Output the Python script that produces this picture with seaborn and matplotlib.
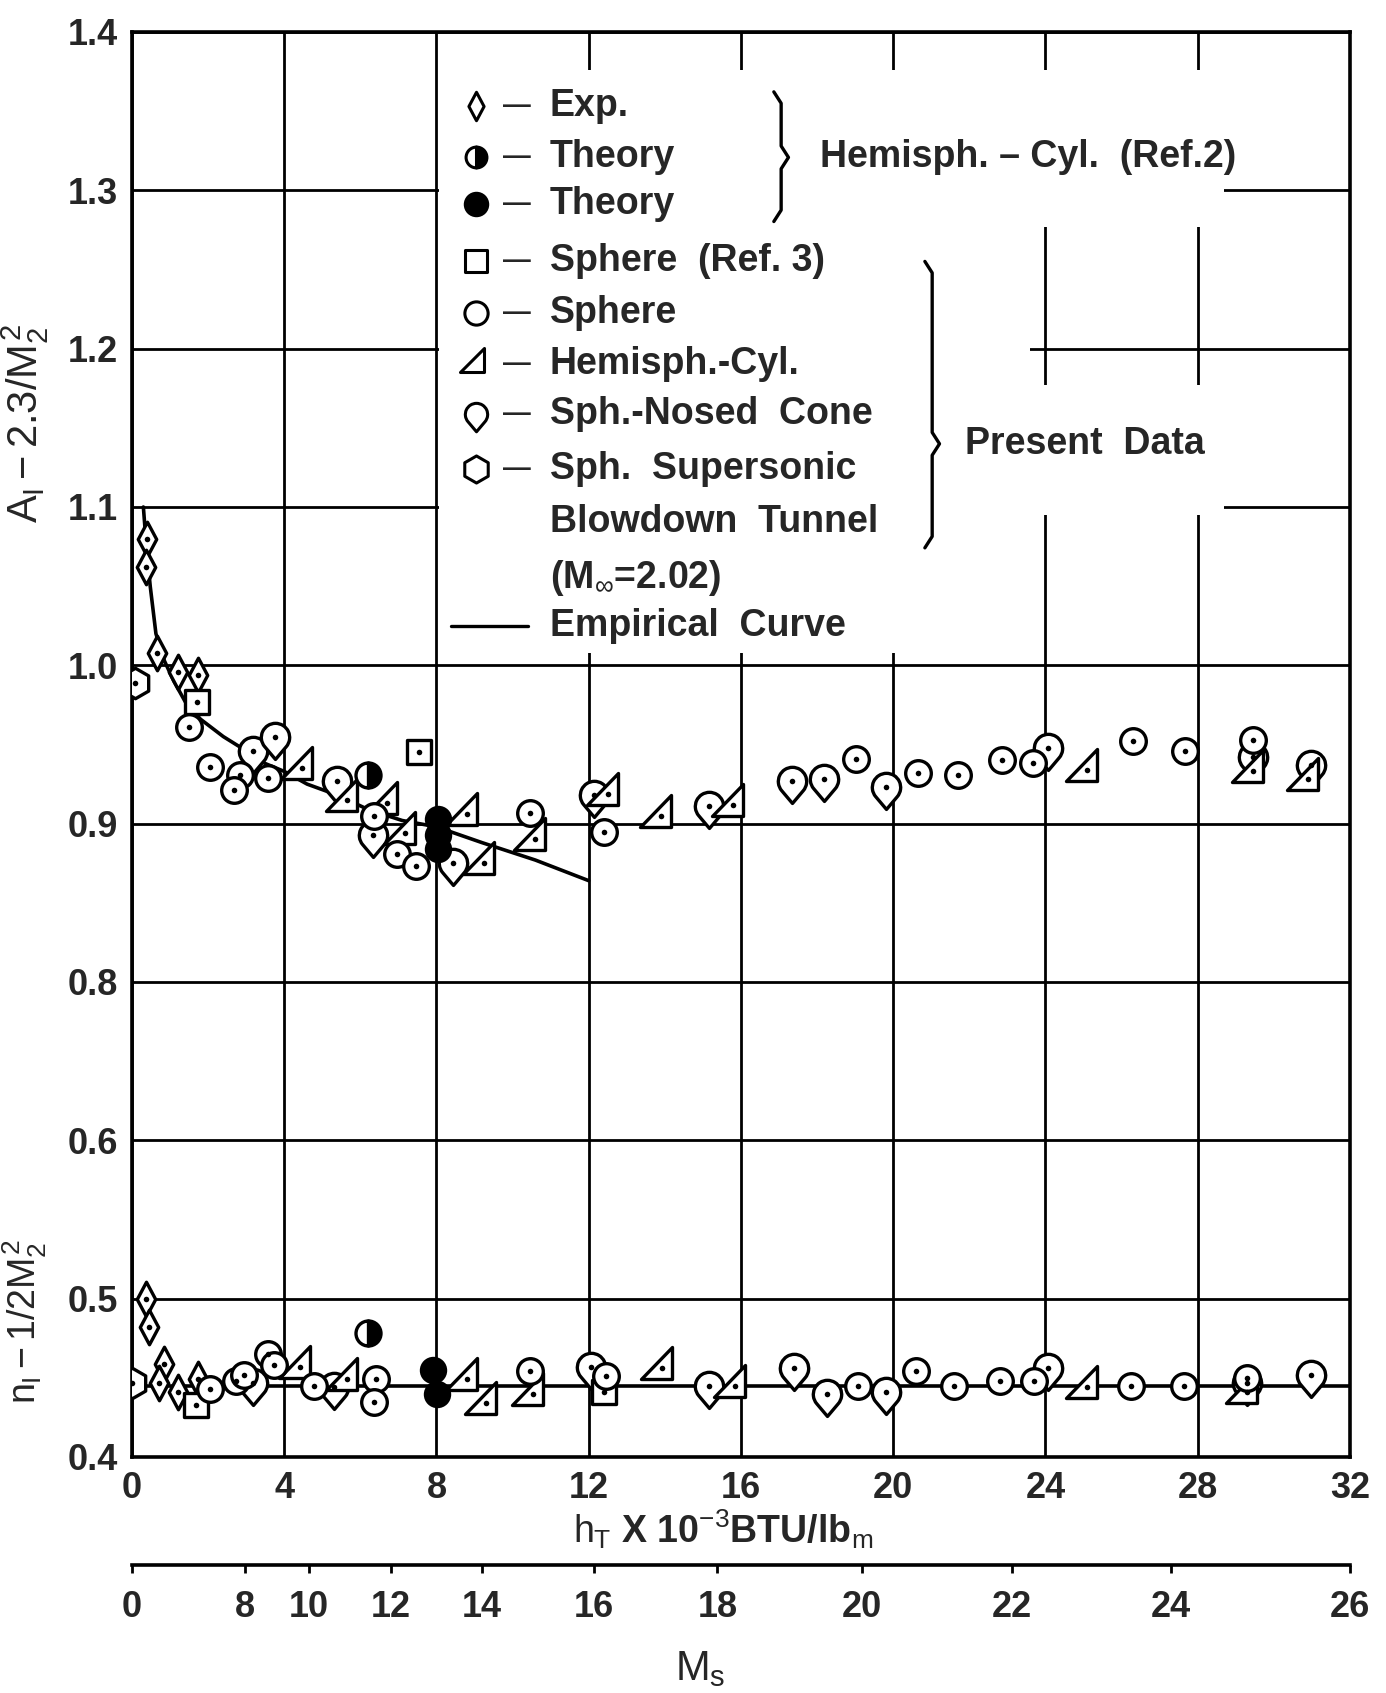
import numpy as np
import pandas as pd
import matplotlib
matplotlib.use("Agg")
import matplotlib.pyplot as plt
from matplotlib import font_manager
from matplotlib.path import Path
from matplotlib.patches import Rectangle
import seaborn as sns

# ------------------------------------------------------------
# data  (h_T in 10^3 BTU/lbm)
# upper band: A1 - 2.3/M2^2
# ------------------------------------------------------------
EXP_H = [0.40, 0.38, 0.66, 1.22, 1.73]
EXP_A = [1.080, 1.062, 1.008, 0.996, 0.994]
THEO_HALF_H = [6.19]
THEO_HALF_A = [0.931]
THEO_FULL_H = [8.05, 8.05, 8.05]
THEO_FULL_A = [0.903, 0.893, 0.884]
REF3_H = [1.72, 7.55]
REF3_A = [0.977, 0.945]
SPH_H = [1.50, 2.05, 2.83, 2.68, 3.58, 6.36, 6.97, 7.47, 10.45, 12.40,
         19.03, 20.64, 21.70, 22.87, 23.67, 26.30, 27.67, 29.45]
SPH_A = [0.961, 0.936, 0.931, 0.921, 0.929, 0.905, 0.881, 0.873, 0.907, 0.895,
         0.941, 0.932, 0.931, 0.940, 0.938, 0.952, 0.946, 0.953]
CYL_H = [4.47, 5.66, 6.71, 7.17, 8.79, 9.25, 10.60, 12.50, 13.90, 15.80,
         25.09, 29.45, 30.90]
CYL_A = [0.935, 0.915, 0.913, 0.894, 0.906, 0.875, 0.890, 0.919, 0.905, 0.912,
         0.934, 0.933, 0.928]
CONE_H = [3.17, 3.76, 5.38, 6.33, 8.44, 12.14, 15.15, 17.33, 18.18, 19.82,
          24.06, 29.45, 30.97]
CONE_A = [0.946, 0.955, 0.927, 0.893, 0.875, 0.918, 0.911, 0.927, 0.928, 0.923,
          0.948, 0.942, 0.937]
TUN_H = [0.09]
TUN_A = [0.989]
EMP_H = [0.30, 0.38, 0.48, 0.63, 0.85, 1.10, 1.40, 1.80, 2.40, 3.00,
         3.50, 4.00, 4.60, 5.40, 6.20, 7.10, 8.00, 9.20, 10.60, 12.00]
EMP_A = [1.100, 1.075, 1.050, 1.020, 1.003, 0.990, 0.977, 0.966, 0.955, 0.946,
         0.938, 0.933, 0.925, 0.918, 0.909, 0.902, 0.898, 0.888, 0.877, 0.864]

# lower band: n1 - 1/2M2^2
EXP_H2 = [0.38, 0.44, 0.84, 0.71, 1.22, 1.73]
EXP_N = [0.500, 0.482, 0.459, 0.447, 0.441, 0.449]
THEO_HALF_H2 = [6.19]
THEO_HALF_N = [0.478]
THEO_FULL_H2 = [7.90, 8.02]
THEO_FULL_N = [0.455, 0.440]
REF3_H2 = [1.68, 12.40]
REF3_N = [0.433, 0.441]
SPH_H2 = [2.04, 2.74, 2.95, 3.58, 3.72, 4.78, 6.40, 6.37, 10.45, 12.45,
          19.07, 20.59, 21.60, 22.80, 23.70, 26.25, 27.63, 29.30]
SPH_N = [0.443, 0.448, 0.452, 0.465, 0.458, 0.445, 0.449, 0.435, 0.454, 0.451,
         0.445, 0.454, 0.445, 0.448, 0.448, 0.445, 0.445, 0.450]
CYL_H2 = [4.42, 5.66, 8.80, 9.30, 10.53, 13.92, 15.85, 25.10, 29.30]
CYL_N = [0.457, 0.449, 0.449, 0.434, 0.440, 0.456, 0.445, 0.444, 0.441]
CONE_H2 = [3.19, 5.30, 12.06, 15.15, 17.40, 18.26, 19.82, 24.07, 29.30, 30.97]
CONE_N = [0.447, 0.444, 0.457, 0.445, 0.456, 0.440, 0.441, 0.456, 0.447, 0.452]
TUN_H2 = [0.0]
TUN_N = [0.447]
EMP_H2 = [0.0, 32.0]
EMP_N = [0.445, 0.445]

# combined left axis: lower scale sits 0.1 below the upper one
Y_TICKS = [0.5, 0.6, 0.7, 0.8, 0.9, 1.0, 1.1, 1.2, 1.3, 1.4]
Y_LABELS = ["0.4", "0.5", "0.6", "0.8", "0.9", "1.0", "1.1", "1.2", "1.3", "1.4"]
X_TICKS = list(range(0, 33, 4))
# M_s scale underneath (position on the h_T axis, label)
MS_POS = [0.0, 2.97, 4.65, 6.81, 9.20, 12.13, 15.38, 19.17, 23.12, 27.30, 32.0]
MS_LAB = ["0", "8", "10", "12", "14", "16", "18", "20", "22", "24", "26"]
LOWER_SHIFT = 0.1

# ------------------------------------------------------------
sns.set_theme(style="white")
names = {f.name for f in font_manager.fontManager.ttflist}
FONT = next((n for n in ["Liberation Sans Narrow", "Liberation Sans", "DejaVu Sans"]
             if n in names), "DejaVu Sans")
plt.rcParams["font.family"] = [FONT, "DejaVu Sans"]
plt.rcParams["mathtext.fontset"] = "custom"
plt.rcParams["mathtext.rm"] = FONT
plt.rcParams["mathtext.it"] = FONT
plt.rcParams["mathtext.bf"] = FONT + ":bold"


def closed(verts):
    verts = list(verts) + [verts[0]]
    codes = [Path.MOVETO] + [Path.LINETO] * (len(verts) - 2) + [Path.CLOSEPOLY]
    return Path(verts, codes)


EXP_MK = closed([(0, 1.5), (0.8, 0), (0, -1.5), (-0.8, 0)])
TRI_MK = closed([(-1.17, -0.6), (0.58, -0.6), (0.58, 1.2)])
_arc = Path.arc(-40, 220)
CONE_MK = Path(np.vstack([_arc.vertices, [[0, -1.55], [0, 0]]]),
               list(_arc.codes) + [Path.LINETO, Path.CLOSEPOLY])

rows = []
def add(kind, hs, vs, shift=0.0):
    for h, v in zip(hs, vs):
        rows.append({"kind": kind, "h": h, "y": v + shift})

add("exp", EXP_H, EXP_A); add("exp", EXP_H2, EXP_N, LOWER_SHIFT)
add("ref3", REF3_H, REF3_A); add("ref3", REF3_H2, REF3_N, LOWER_SHIFT)
add("sph", SPH_H, SPH_A); add("sph", SPH_H2, SPH_N, LOWER_SHIFT)
add("cyl", CYL_H, CYL_A); add("cyl", CYL_H2, CYL_N, LOWER_SHIFT)
add("cone", CONE_H, CONE_A); add("cone", CONE_H2, CONE_N, LOWER_SHIFT)
add("tun", TUN_H, TUN_A); add("tun", TUN_H2, TUN_N, LOWER_SHIFT)
add("full", THEO_FULL_H, THEO_FULL_A); add("full", THEO_FULL_H2, THEO_FULL_N, LOWER_SHIFT)
df = pd.DataFrame(rows)

MARKERS = {"exp": EXP_MK, "ref3": "s", "sph": "o", "cyl": TRI_MK,
           "cone": CONE_MK, "tun": "h", "full": "o"}
SIZES = {"exp": 620, "ref3": 320, "sph": 340, "cyl": 950,
         "cone": 1000, "tun": 480, "full": 300}

fig = plt.figure(figsize=(13.86, 16.93), dpi=100)
ax = fig.add_axes([0.0952, 0.1394, 0.8788, 0.8417])
ax.set_xlim(0, 32)
ax.set_ylim(0.5, 1.4)

ax.set_axisbelow(True)
ax.grid(True, color="black", linewidth=2.0)
for s in ax.spines.values():
    s.set_color("black")
    s.set_linewidth(2.6)

# white patches where the key and notes blank out the grid
for x0, x1, y0, y1 in [(8.08, 28.7, 1.277, 1.376), (8.08, 23.6, 1.177, 1.277),
                       (8.08, 28.7, 1.095, 1.177), (8.08, 21.8, 1.008, 1.095)]:
    ax.add_patch(Rectangle((x0, y0), x1 - x0, y1 - y0, facecolor="white",
                           edgecolor="none", zorder=1))

# empirical curves
sns.lineplot(x=EMP_H, y=EMP_A, color="black", linewidth=2.6, ax=ax, zorder=2, sort=False)
sns.lineplot(x=EMP_H2, y=np.array(EMP_N) + LOWER_SHIFT, color="black",
             linewidth=2.6, ax=ax, zorder=2, sort=False)

for kind, sub in df.groupby("kind"):
    face = "black" if kind == "full" else "white"
    sns.scatterplot(data=sub, x="h", y="y", marker=MARKERS[kind], s=SIZES[kind],
                    color=face, edgecolor="black", linewidth=2.4, ax=ax,
                    legend=False, zorder=3)
open_pts = df[df["kind"] != "full"]
sns.scatterplot(data=open_pts, x="h", y="y", marker="o", s=16, color="black",
                linewidth=0, ax=ax, legend=False, zorder=4)

# half-filled theory points
ax.plot(THEO_HALF_H + THEO_HALF_H2,
        THEO_HALF_A + [v + LOWER_SHIFT for v in THEO_HALF_N],
        linestyle="none", marker="o", markersize=18, fillstyle="right",
        markerfacecolor="black", markerfacecoloralt="white",
        markeredgecolor="black", markeredgewidth=2.4, zorder=3)

ax.set_xticks(X_TICKS)
ax.set_xticklabels([str(t) for t in X_TICKS])
ax.set_yticks(Y_TICKS)
ax.set_yticklabels(Y_LABELS)
ax.tick_params(length=0, labelsize=26, pad=10)
for lab in ax.get_xticklabels() + ax.get_yticklabels():
    lab.set_fontweight("bold")
ax.set_xlabel("")
ax.set_ylabel("")

# ---- key ----
TXT = dict(transform=ax.transAxes, fontsize=27, fontweight="bold", va="center")
key_rows = [0.948, 0.912, 0.879, 0.839, 0.803, 0.767, 0.732, 0.693, 0.656, 0.617, 0.583]
key_labels = ["Exp.", "Theory", "Theory", "Sphere  (Ref. 3)", "Sphere", "Hemisph.-Cyl.",
              "Sph.-Nosed  Cone", "Sph.  Supersonic", "Blowdown  Tunnel",
              r"(M$_{\infty}$=2.02)", "Empirical  Curve"]
key_marks = [(EXP_MK, 420, "white"), ("half", None, None), ("o", 260, "black"),
             ("s", 250, "white"), ("o", 280, "white"), (TRI_MK, 560, "white"),
             (CONE_MK, 620, "white"), ("h", 380, "white"), None, None, "line"]
MX, DX, LX = 0.2825, 0.316, 0.343
for yk, lab, mk in zip(key_rows, key_labels, key_marks):
    ax.text(LX, yk, lab, ha="left", **TXT)
    if mk is None:
        continue
    if mk == "line":
        ax.plot([0.262, 0.325], [yk, yk], transform=ax.transAxes, color="black",
                linewidth=2.4, zorder=5)
        continue
    ax.text(DX, yk, "\u2014", ha="center", transform=ax.transAxes, fontsize=20,
            fontweight="bold", va="center")
    if mk[0] == "half":
        ax.plot([MX], [yk], transform=ax.transAxes, linestyle="none", marker="o",
                markersize=15, fillstyle="right", markerfacecolor="black",
                markerfacecoloralt="white", markeredgecolor="black",
                markeredgewidth=2.2, zorder=5)
    else:
        ax.scatter([MX], [yk], transform=ax.transAxes, marker=mk[0], s=mk[1],
                   facecolor=mk[2], edgecolor="black", linewidth=2.2, zorder=5)


def brace(xb, ytop, ybot, ymid, w=0.006, e=0.008):
    xs = [xb - w, xb, xb, xb + w, xb, xb, xb - w]
    ys = [ytop, ytop - e, ymid + e, ymid, ymid - e, ybot + e, ybot]
    ax.plot(xs, ys, transform=ax.transAxes, color="black", linewidth=2.4, zorder=5)


brace(0.533, 0.958, 0.867, 0.912)
ax.text(0.565, 0.912, "Hemisph. \u2013 Cyl.  (Ref.2)", ha="left", **TXT)
brace(0.657, 0.839, 0.638, 0.711)
ax.text(0.684, 0.711, "Present  Data", ha="left", **TXT)

# ---- axis titles ----
ax.text(-0.088, 0.725, r"$A_{\rm I} - 2.3/M_2^2$", transform=ax.transAxes,
        rotation=90, fontsize=30, ha="center", va="center")
ax.text(-0.088, 0.095, r"$n_{\rm I} - 1/2M_2^2$", transform=ax.transAxes,
        rotation=90, fontsize=27, ha="center", va="center")
fig.text(0.522, 0.097, r"$h_T$ X 10$^{-3}$BTU/lb$_m$", fontsize=27,
         fontweight="bold", ha="center", va="center")

# ---- M_s scale ----
ax2 = fig.add_axes([0.0952, 0.0756, 0.8788, 0.0001])
ax2.set_xlim(0, 32)
ax2.set_yticks([])
for side in ["top", "left", "right"]:
    ax2.spines[side].set_visible(False)
ax2.spines["bottom"].set_linewidth(2.6)
ax2.spines["bottom"].set_color("black")
ax2.set_xticks(MS_POS)
ax2.set_xticklabels(MS_LAB)
ax2.tick_params(axis="x", direction="out", length=6, width=2, labelsize=26, pad=12,
                bottom=True, color="black")
for lab in ax2.get_xticklabels():
    lab.set_fontweight("bold")
fig.text(0.505, 0.014, r"$M_s$", fontsize=30, ha="center", va="center")

fig.savefig("out.png", dpi=100, facecolor="white")
